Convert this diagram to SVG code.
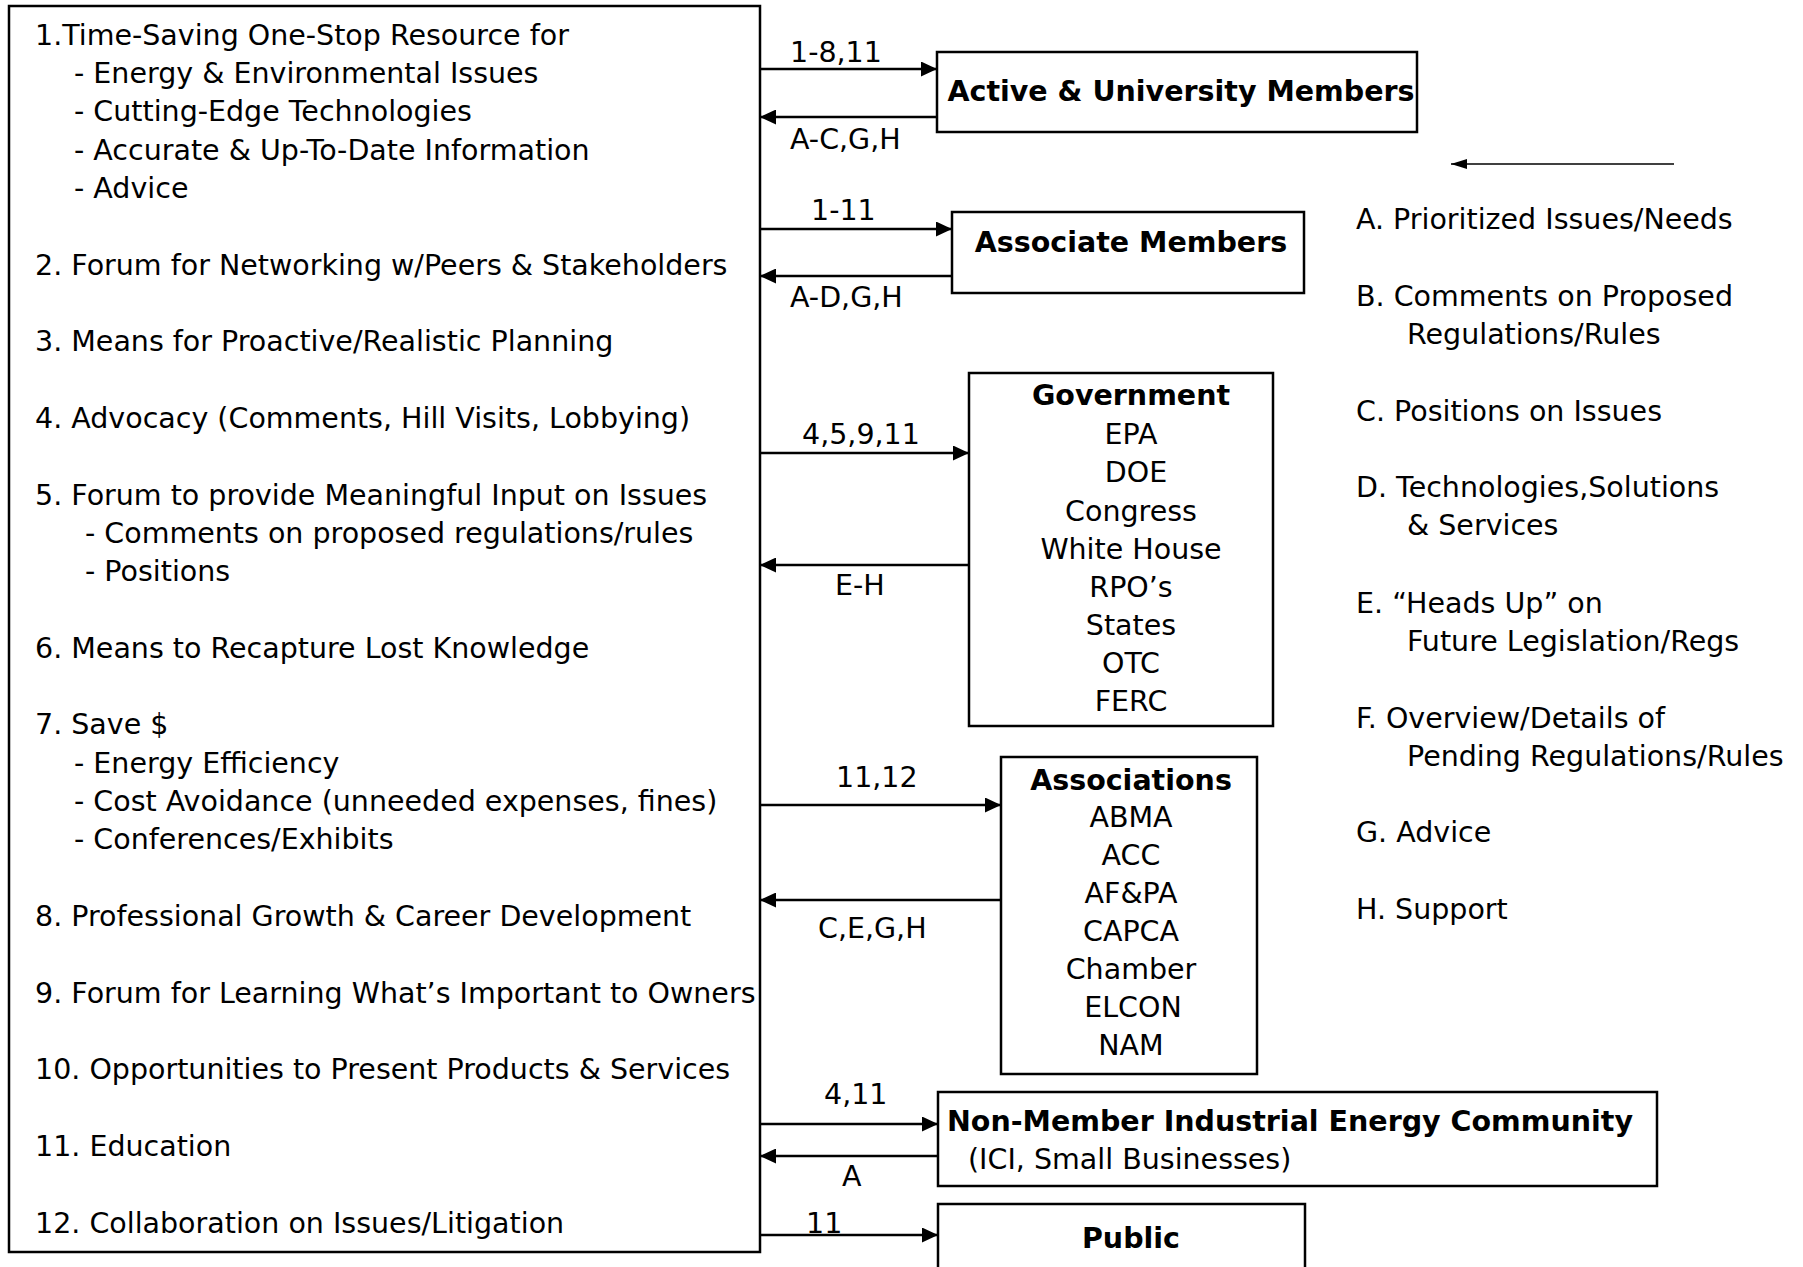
<svg xmlns="http://www.w3.org/2000/svg" width="1803" height="1267" viewBox="0 0 1803 1267">
<style>
text{font-family:"DejaVu Sans","Liberation Sans",sans-serif;font-size:28.5px;fill:#000}
.b{font-weight:bold}
.m{text-anchor:middle}
.box{fill:#fff;stroke:#000;stroke-width:2.5}
.ln{stroke:#000;stroke-width:2.5;fill:none}
.thin{stroke:#000;stroke-width:1.5;fill:none}
</style>
<defs>
<marker id="ah" viewBox="0 0 16 15" refX="16" refY="7.5" markerWidth="16" markerHeight="15" markerUnits="userSpaceOnUse" orient="auto"><path d="M0,0L16,7.5L0,15z" fill="#000"/></marker>
<marker id="ahs" viewBox="0 0 16 10" refX="16" refY="5" markerWidth="16" markerHeight="10" markerUnits="userSpaceOnUse" orient="auto"><path d="M0,0L16,5L0,10z" fill="#000"/></marker>
</defs>
<rect width="1803" height="1267" fill="#fff"/>

<g id="benefits">
<rect class="box" x="9" y="6" width="751" height="1246"/>
<text x="35" y="44.5">1.Time-Saving One-Stop Resource for</text>
<text x="74" y="82.8">- Energy &amp; Environmental Issues</text>
<text x="74" y="121.2">- Cutting-Edge Technologies</text>
<text x="74" y="159.5">- Accurate &amp; Up-To-Date Information</text>
<text x="74" y="197.8">- Advice</text>
<text x="35" y="274.5">2. Forum for Networking w/Peers &amp; Stakeholders</text>
<text x="35" y="351.1">3. Means for Proactive/Realistic Planning</text>
<text x="35" y="427.8">4. Advocacy (Comments, Hill Visits, Lobbying)</text>
<text x="35" y="504.5">5. Forum to provide Meaningful Input on Issues</text>
<text x="85" y="542.8">- Comments on proposed regulations/rules</text>
<text x="85" y="581.1">- Positions</text>
<text x="35" y="657.8">6. Means to Recapture Lost Knowledge</text>
<text x="35" y="734.4">7. Save $</text>
<text x="74" y="772.8">- Energy Efficiency</text>
<text x="74" y="811.1">- Cost Avoidance (unneeded expenses, fines)</text>
<text x="74" y="849.4">- Conferences/Exhibits</text>
<text x="35" y="926.1">8. Professional Growth &amp; Career Development</text>
<text x="35" y="1002.8">9. Forum for Learning What’s Important to Owners</text>
<text x="35" y="1079.4">10. Opportunities to Present Products &amp; Services</text>
<text x="35" y="1156.1">11. Education</text>
<text x="35" y="1232.7">12. Collaboration on Issues/Litigation</text>
</g>

<g id="active-members">
<rect class="box" x="937" y="52" width="480" height="80"/>
<text class="b m" x="1181" y="101">Active &amp; University Members</text>
</g>

<g id="associate-members">
<rect class="box" x="952" y="212" width="352" height="81"/>
<text class="b m" x="1131" y="252">Associate Members</text>
</g>

<g id="government">
<rect class="box" x="969" y="373" width="304" height="353"/>
<text class="b m" x="1131" y="405">Government</text>
<text class="m" x="1131" y="444">EPA</text>
<text class="m" x="1136" y="482">DOE</text>
<text class="m" x="1131" y="520.5">Congress</text>
<text class="m" x="1131" y="559">White House</text>
<text class="m" x="1131" y="597">RPO’s</text>
<text class="m" x="1131" y="635">States</text>
<text class="m" x="1131" y="673">OTC</text>
<text class="m" x="1131" y="711">FERC</text>
</g>

<g id="associations">
<rect class="box" x="1001" y="757" width="256" height="317"/>
<text class="b m" x="1131" y="790">Associations</text>
<text class="m" x="1131" y="827">ABMA</text>
<text class="m" x="1131" y="865">ACC</text>
<text class="m" x="1131" y="903">AF&amp;PA</text>
<text class="m" x="1131" y="941">CAPCA</text>
<text class="m" x="1131" y="979">Chamber</text>
<text class="m" x="1133" y="1017">ELCON</text>
<text class="m" x="1131" y="1055">NAM</text>
</g>

<g id="non-member">
<rect class="box" x="938" y="1092" width="719" height="94"/>
<text class="b" x="947" y="1131">Non-Member Industrial Energy Community</text>
<text x="968" y="1169">(ICI, Small Businesses)</text>
</g>

<g id="public">
<rect class="box" x="938" y="1204" width="367" height="80"/>
<text class="b m" x="1131" y="1248">Public</text>
</g>

<g id="legend">
<text x="1356" y="228.5">A. Prioritized Issues/Needs</text>
<text x="1356" y="305.5">B. Comments on Proposed</text>
<text x="1407" y="343.5">Regulations/Rules</text>
<text x="1356" y="420.5">C. Positions on Issues</text>
<text x="1356" y="496.5">D. Technologies,Solutions</text>
<text x="1407" y="535">&amp; Services</text>
<text x="1356" y="612.5">E. “Heads Up” on</text>
<text x="1407" y="650.5">Future Legislation/Regs</text>
<text x="1356" y="727.5">F. Overview/Details of</text>
<text x="1407" y="765.5">Pending Regulations/Rules</text>
<text x="1356" y="841.5">G. Advice</text>
<text x="1356" y="918.5">H. Support</text>
</g>

<g id="connectors">
<line class="ln" x1="760" y1="69" x2="937" y2="69" marker-end="url(#ah)"/>
<line class="ln" x1="937" y1="117" x2="760" y2="117" marker-end="url(#ah)"/>
<line class="ln" x1="760" y1="229" x2="952" y2="229" marker-end="url(#ah)"/>
<line class="ln" x1="952" y1="276" x2="760" y2="276" marker-end="url(#ah)"/>
<line class="ln" x1="760" y1="453" x2="969" y2="453" marker-end="url(#ah)"/>
<line class="ln" x1="969" y1="565" x2="760" y2="565" marker-end="url(#ah)"/>
<line class="ln" x1="760" y1="805" x2="1001" y2="805" marker-end="url(#ah)"/>
<line class="ln" x1="1001" y1="900" x2="760" y2="900" marker-end="url(#ah)"/>
<line class="ln" x1="760" y1="1124" x2="938" y2="1124" marker-end="url(#ah)"/>
<line class="ln" x1="938" y1="1156" x2="760" y2="1156" marker-end="url(#ah)"/>
<line class="ln" x1="760" y1="1235" x2="938" y2="1235" marker-end="url(#ah)"/>
<line class="thin" x1="1674" y1="164" x2="1451" y2="164" marker-end="url(#ahs)"/>
<text x="790" y="62">1-8,11</text>
<text x="790" y="149">A-C,G,H</text>
<text x="811" y="220">1-11</text>
<text x="790" y="307">A-D,G,H</text>
<text x="802" y="444">4,5,9,11</text>
<text x="835" y="595">E-H</text>
<text x="836" y="787">11,12</text>
<text x="818" y="938">C,E,G,H</text>
<text x="824" y="1104">4,11</text>
<text x="842" y="1186">A</text>
<text x="806" y="1233">11</text>
</g>
</svg>
